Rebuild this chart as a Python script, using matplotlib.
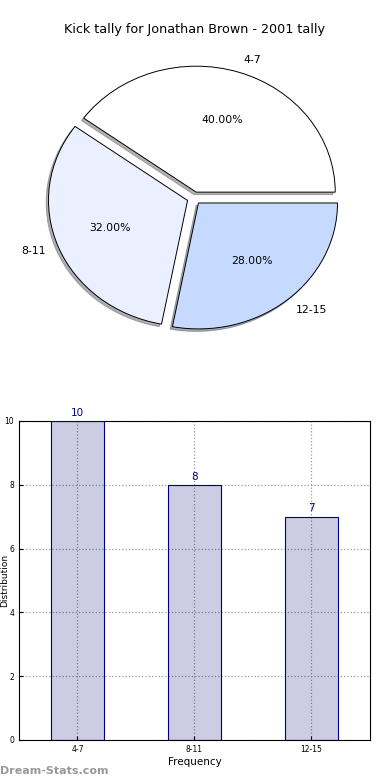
import numpy as np
import matplotlib
matplotlib.use("Agg")
import matplotlib.pyplot as plt

# Kick tally data
categories = ["4-7", "8-11", "12-15"]
counts = [10, 8, 7]
pie_colors = ["#ffffff", "#eaf0ff", "#c6d9ff"]

fig = plt.figure(figsize=(3.9, 7.8), dpi=100)
fig.text(0.5, 1 - 30 / 780, "Kick tally for Jonathan Brown - 2001 tally",
         ha="center", va="center", fontsize=9.2)

# Pie chart (old style, stretched to the axes)
ax1 = fig.add_axes([0.009, 0.549, 0.977, 0.394])
wedges, texts, autotexts = ax1.pie(counts, labels=categories, colors=pie_colors,
                                   explode=[0.05] * len(counts),
                                   shadow=dict(ox=-0.012, oy=-0.014, shade=0.6),
                                   autopct="%.2f%%", startangle=0,
                                   wedgeprops=dict(edgecolor="black", linewidth=0.7),
                                   textprops=dict(fontsize=7.8))
ax1.set_aspect("auto")
ax1.set_xlim(-1.37, 1.37)
ax1.set_ylim(-1.22, 1.22)
ax1.axis("off")

# Bar chart
ax2 = fig.add_axes([0.0487, 0.0513, 0.9, 0.409])
x = np.arange(len(categories))
ax2.bar(x, counts, width=0.45, color="navy", alpha=0.2, zorder=2)
ax2.bar(x, counts, width=0.45, fill=False, edgecolor="navy", linewidth=0.8, zorder=3)
for xi, c in zip(x, counts):
    ax2.text(xi, c + 0.1, str(c), ha="center", va="bottom", color="navy", fontsize=7.5)
ax2.set_xlim(-0.5, 2.5)
ax2.set_ylim(0, 10)
ax2.set_xticks(x)
ax2.set_xticklabels(categories)
ax2.set_yticks([0, 2, 4, 6, 8, 10])
ax2.tick_params(labelsize=5.5, direction="in", length=3)
ax2.grid(True, linestyle=":", color="#999999", linewidth=0.9, zorder=0)
ax2.set_axisbelow(True)
ax2.set_xlabel("Frequency", fontsize=7.5, labelpad=2)

fig.text(0.001, 1 - 580 / 780, "Distribution", rotation=90, ha="left", va="center", fontsize=6.5)
fig.text(0.0, 1 - 771 / 780, "Dream-Stats.com", ha="left", va="center",
         fontsize=8, color="#999999", fontweight="bold")

fig.savefig("out.png", dpi=100)
